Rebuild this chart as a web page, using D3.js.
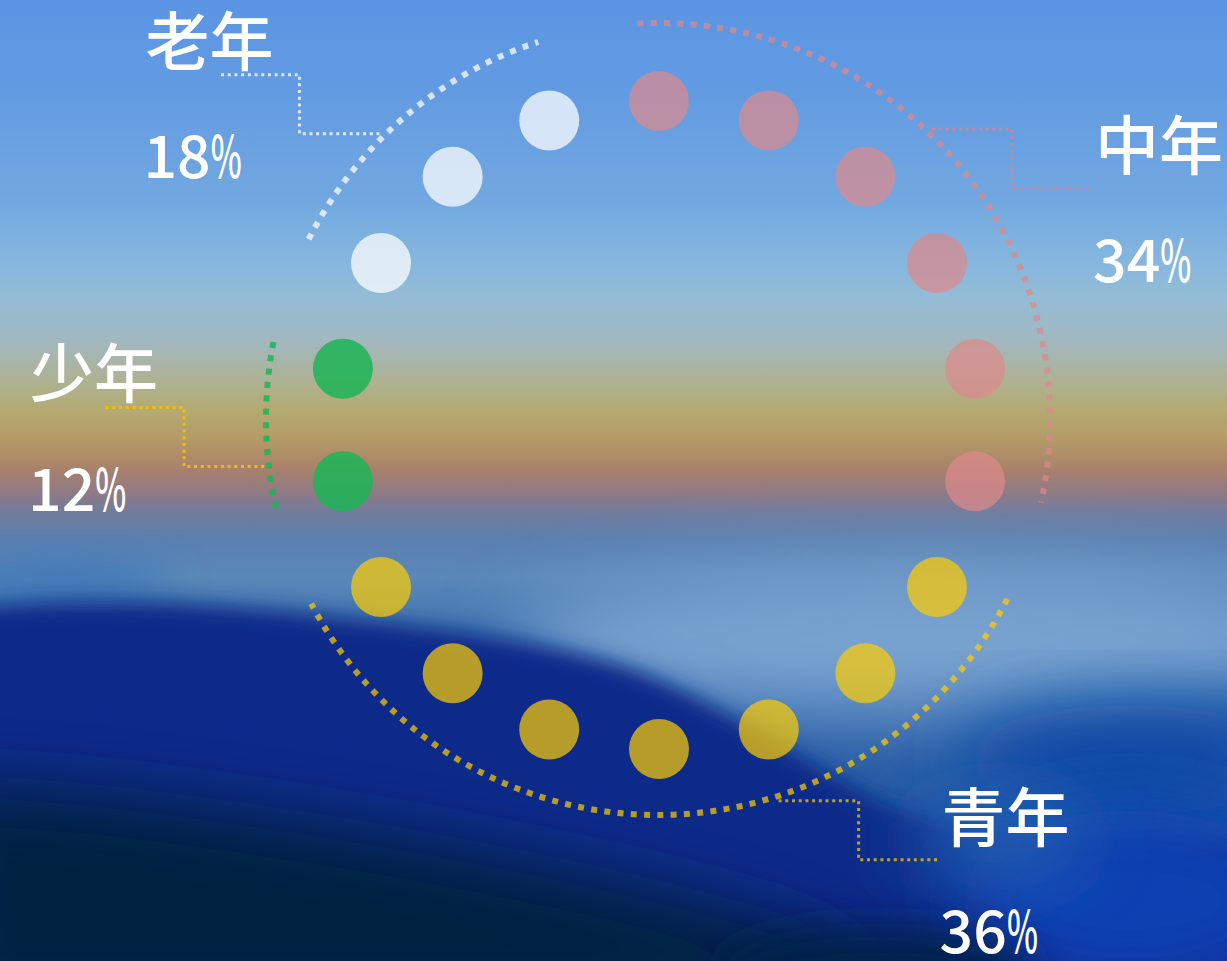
<!DOCTYPE html>
<html>
<head>
<meta charset="utf-8">
<script src="https://cdn.jsdelivr.net/npm/d3@7"></script>
<style>
html,body{margin:0;padding:0;overflow:hidden;background:#3a6aaa;}
svg{display:block;}
</style>
</head>
<body>
<svg id="chart" width="1227" height="961"></svg>
<script>
// ---------------- DATA ----------------
const categories = ["中年", "青年", "少年", "老年"];
const percents = [34, 36, 12, 18];
const percentLabels = ["34%", "36%", "12%", "18%"];
const dotTotal = 18;

// ---------------- STYLE / LAYOUT ----------------
const W = 1227, H = 961;
const palette = {
  "中年": "rgba(220,137,140,0.72)",
  "青年": "rgba(255,205,0,0.70)",
  "少年": "rgba(29,181,87,0.86)",
  "老年": "rgba(255,255,255,0.73)"
};
const leaderPalette = {
  "中年": "rgba(215,130,150,0.85)",
  "青年": "rgba(255,205,0,0.72)",
  "少年": "rgba(255,190,0,0.88)",
  "老年": "rgba(255,255,255,0.78)"
};
const labelAnchorDeg = { "中年": 43.7, "青年": 162.3, "少年": 263.2, "老年": 315.4 };
// dot ring
const dotCx = 659, dotCy = 425, dotRx = 321, dotRy = 324, dotR = 30;
// dashed arc ring
const arcCx = 658, arcCy = 419, arcRx = 392, arcRy = 396;
const arcStartPadDeg = 3.0, arcEndPadDeg = 2.2;
const leaderFactor = 1.012;

const svg = d3.select("#chart");
const defs = svg.append("defs");

// ---------------- BACKGROUND ----------------
const sky = defs.append("linearGradient").attr("id", "sky")
  .attr("x1", 0).attr("y1", 0).attr("x2", 0).attr("y2", 1);
[[0, "#5b95e3"], [0.10, "#639be2"], [0.21, "#72a8e0"], [0.27, "#84b6de"],
 [0.31, "#94bcd6"], [0.355, "#a2b8be"], [0.395, "#aeb294"], [0.427, "#b4aa72"],
 [0.458, "#b49a68"], [0.489, "#a8806c"], [0.515, "#8c7a88"], [0.536, "#6e7ca0"],
 [0.562, "#5a80b0"], [0.60, "#5a88b8"], [0.70, "#2f64aa"], [1, "#1a4a9a"]]
  .forEach(([o, c]) => sky.append("stop").attr("offset", o).attr("stop-color", c));

function blur(id, s) {
  defs.append("filter").attr("id", id)
    .attr("x", "-50%").attr("y", "-50%").attr("width", "200%").attr("height", "200%")
    .append("feGaussianBlur").attr("stdDeviation", s);
}
blur("b10", 10); blur("b20", 20); blur("b35", 35);

const bg = svg.append("g").attr("class", "background");
bg.append("rect").attr("width", W).attr("height", H).attr("fill", "url(#sky)");
bg.append("ellipse").attr("cx", 930).attr("cy", 640).attr("rx", 420).attr("ry", 75)
  .attr("fill", "#78a2cf").attr("filter", "url(#b35)");
bg.append("ellipse").attr("cx", 60).attr("cy", 585).attr("rx", 110).attr("ry", 25)
  .attr("fill", "#3f78b8").attr("filter", "url(#b20)");
bg.append("path")
  .attr("d", "M-40,608 C100,594 220,604 330,616 C450,630 560,642 640,672 C720,704 790,752 870,797 C950,837 1060,852 1267,842 L1267,1001 L-40,1001 Z")
  .attr("fill", "#072b8a").attr("filter", "url(#b10)");
bg.append("ellipse").attr("cx", 1130).attr("cy", 760).attr("rx", 170).attr("ry", 55)
  .attr("fill", "#0d4aa6").attr("filter", "url(#b35)");
bg.append("ellipse").attr("cx", 1130).attr("cy", 900).attr("rx", 170).attr("ry", 90)
  .attr("fill", "#0b3fb2").attr("filter", "url(#b35)");
bg.append("ellipse").attr("cx", 1000).attr("cy", 840).attr("rx", 90).attr("ry", 40)
  .attr("fill", "#2460b4").attr("filter", "url(#b35)");
bg.append("path")
  .attr("d", "M-60,785 C100,790 260,815 420,842 C560,868 700,897 820,937 L900,1010 L-60,1010 Z")
  .attr("fill", "#022040").attr("filter", "url(#b35)");
bg.append("ellipse").attr("cx", 880).attr("cy", 975).attr("rx", 160).attr("ry", 45)
  .attr("fill", "#03204a").attr("filter", "url(#b20)");

// ---------------- DOT ALLOCATION (largest remainder) ----------------
const raw = percents.map(p => p / 100 * dotTotal);
const counts = raw.map(Math.floor);
const remaining = dotTotal - d3.sum(counts);
d3.range(counts.length)
  .sort((a, b) => (raw[b] - counts[b]) - (raw[a] - counts[a]))
  .slice(0, remaining).forEach(i => counts[i]++);

const angle = d3.scaleLinear().domain([0, dotTotal]).range([0, 360]);
const rad = d => d * Math.PI / 180;

const groups = [];
let run = 0;
categories.forEach((c, i) => {
  groups.push({ name: c, pct: percentLabels[i], start: run, count: counts[i] });
  run += counts[i];
});
const dots = [];
groups.forEach(g => d3.range(g.count).forEach(k => dots.push({ name: g.name, idx: g.start + k })));

// ---------------- ARCS ----------------
const chart = svg.append("g").attr("class", "chart");
const arcG = chart.append("g")
  .attr("transform", `translate(${arcCx},${arcCy}) scale(1,${arcRy / arcRx})`);
arcG.selectAll("path.arc").data(groups).join("path")
  .attr("class", "arc")
  .attr("d", g => {
    const a0 = angle(g.start) - arcStartPadDeg;
    const a1 = angle(g.start + g.count - 1) + arcEndPadDeg;
    const p = d3.path();
    p.arc(0, 0, arcRx, rad(a0 - 90), rad(a1 - 90), false);
    return p.toString();
  })
  .attr("fill", "none")
  .attr("stroke", g => palette[g.name])
  .attr("stroke-width", 6)
  .attr("stroke-dasharray", "6 7.3");

// ---------------- DOTS ----------------
chart.append("g").selectAll("circle").data(dots).join("circle")
  .attr("cx", d => dotCx + dotRx * Math.sin(rad(angle(d.idx))))
  .attr("cy", d => dotCy - dotRy * Math.cos(rad(angle(d.idx))))
  .attr("r", dotR)
  .attr("fill", d => palette[d.name]);

// ---------------- LEADERS & LABELS ----------------
const line = d3.line();
const labelG = chart.append("g");
groups.forEach(g => {
  const a = rad(labelAnchorDeg[g.name]);
  const x0 = arcCx + arcRx * leaderFactor * Math.sin(a);
  const y0 = arcCy - arcRy * leaderFactor * Math.cos(a);
  const side = Math.sin(a) > 0 ? 1 : -1;
  const pts = [[x0, y0], [x0 + side * 80, y0], [x0 + side * 80, y0 + side * 59], [x0 + side * 160, y0 + side * 59]];
  labelG.append("path").attr("d", line(pts))
    .attr("fill", "none").attr("stroke", leaderPalette[g.name])
    .attr("stroke-width", 3).attr("stroke-dasharray", "3 3.7");
  const ex = pts[3][0], ey = pts[3][1];
  const tx = side > 0 ? ex + 3 : ex - 74;
  const nameY = side > 0 ? ey - 19 : ey - 10;
  const pctY = side > 0 ? ey + 93.5 : ey + 103.5;
  labelG.append("text").attr("x", tx).attr("y", nameY)
    .attr("fill", "#fff").attr("font-family", "'Noto Sans CJK SC', sans-serif")
    .attr("font-size", 64).attr("font-weight", 500).text(g.name);
  const pt = labelG.append("text").attr("x", tx - 2).attr("y", pctY)
    .attr("fill", "#fff").attr("font-family", "'Noto Sans CJK SC', sans-serif")
    .attr("font-size", 59).attr("font-weight", 500);
  pt.append("tspan").text(g.pct.replace("%", ""));
  pt.append("tspan").attr("textLength", 31).attr("lengthAdjust", "spacingAndGlyphs").text("%");
});
</script>
</body>
</html>
